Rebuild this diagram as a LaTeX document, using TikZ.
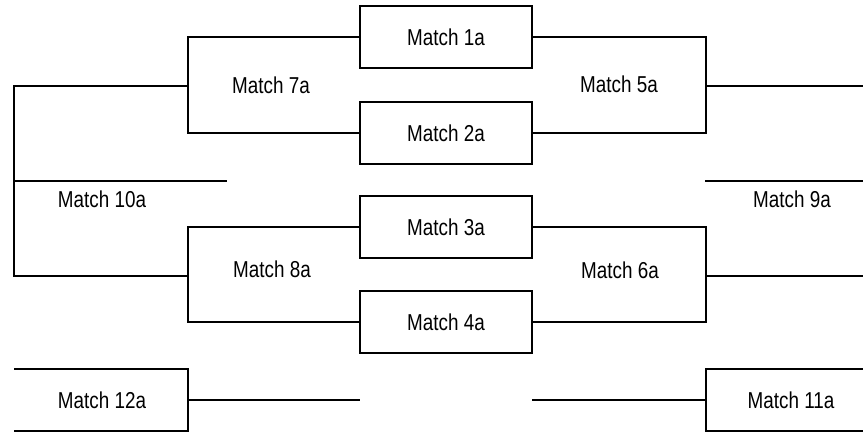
\documentclass[tikz,border=0pt]{standalone}
\usepackage{fontspec}
\setmainfont{Liberation Sans}[FakeStretch=0.82]
\usetikzlibrary{positioning, calc}

\begin{document}
\begin{tikzpicture}[
    x=1pt, y=-1pt,
    line width=2.2pt,
    match/.style={draw, rectangle, minimum width=172pt, minimum height=62pt, inner sep=0pt, font=\fontsize{23}{27}\selectfont},
    label/.style={inner sep=0pt, font=\fontsize{23}{27}\selectfont}
]
\useasboundingbox (0,0) rectangle (863,433);

\node[match] (m1) at (446,37) {Match 1a};
\node[match] (m2) at (446,133) {Match 2a};
\node[match] (m3) at (446,227) {Match 3a};
\node[match] (m4) at (446,322) {Match 4a};

\coordinate (j7) at (188,86);
\coordinate (j8) at (188,276);
\coordinate (j10) at (14,181);
\coordinate (o10) at (227,181);
\coordinate (j5) at (706,86);
\coordinate (j6) at (706,276);
\coordinate (r5) at (863,86);
\coordinate (r6) at (863,276);
\coordinate (s9) at (705,181);
\coordinate (r9) at (863,181);
\coordinate (t12) at (14,369);
\coordinate (b12) at (14,431);
\coordinate (j12) at (188,400);
\coordinate (o12) at (360,400);
\coordinate (t11) at (863,369);
\coordinate (b11) at (863,431);
\coordinate (j11) at (706,400);
\coordinate (o11) at (532,400);

\draw (m1.west) -| (j7) |- (m2.west);
\draw (m3.west) -| (j8) |- (m4.west);
\draw (j7) -| (j10) |- (j8);
\draw (j10) -- (o10);
\draw (m1.east) -| (j5) |- (m2.east);
\draw (m3.east) -| (j6) |- (m4.east);
\draw (j5) -- (r5);
\draw (j6) -- (r6);
\draw (s9) -- (r9);
\draw (t12) -| (j12) |- (b12);
\draw (j12) -- (o12);
\draw (t11) -| (j11) |- (b11);
\draw (j11) -- (o11);

\node[label] (m7) at (271,85) {Match 7a};
\node[label] (m8) at (272,269) {Match 8a};
\node[label] (m5) at (619,84) {Match 5a};
\node[label] (m6) at (620,270) {Match 6a};
\node[label] (m10) at (102,199) {Match 10a};
\node[label] (m9) at (792,199) {Match 9a};
\node[label] (m12) at (102,400) {Match 12a};
\node[label] (m11) at (791,400) {Match 11a};

\end{tikzpicture}
\end{document}
